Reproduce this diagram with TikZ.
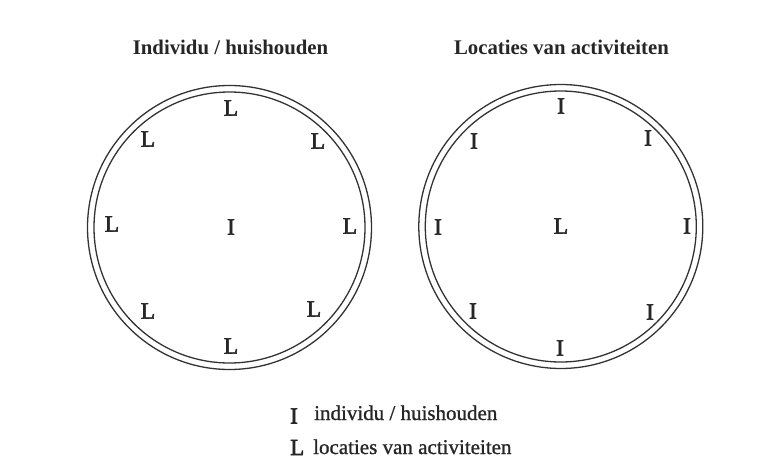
\documentclass[tikz,border=0pt]{standalone}
\usepackage{fontspec}
\setmainfont{Liberation Serif}
\newfontfamily\heavyserif{Liberation Serif}[FakeBold=2.5]
\newfontfamily\semiserif{Liberation Serif}[FakeBold=1]
\begin{document}
\begin{tikzpicture}[x=1pt,y=-1pt,
  ring/.style={line width=1.3pt,draw=black!80},
  letter/.style={font=\heavyserif\fontsize{23.5}{26}\selectfont,inner sep=0pt,anchor=center,text=black!85},
  ttl/.style={font=\fontsize{20.8}{23}\selectfont\bfseries,inner sep=0pt,anchor=base,text=black!85},
  legtxt/.style={font=\semiserif\fontsize{21}{24}\selectfont,inner sep=0pt,anchor=base west,text=black!85},
  legsym/.style={font=\heavyserif\fontsize{23}{25}\selectfont,inner sep=0pt,anchor=base west,text=black!85}]
\useasboundingbox (0,0) rectangle (774,463);
% titles
\node[ttl] (t1) at (230.5,54.5) {Individu / huishouden};
\node[ttl] (t2) at (561.5,54) {Locaties van activiteiten};
% left circle
\coordinate (c1) at (229.5,227.5);
\draw[ring] (c1) circle[radius=142];
\draw[ring] (c1) circle[radius=135.5];
% right circle
\coordinate (c2) at (560.8,226.5);
\draw[ring] (c2) circle[radius=142];
\draw[ring] (c2) circle[radius=135.5];
% left letters
\node[letter] (a1) at (231,108) {L};
\node[letter] (a2) at (148,139) {L};
\node[letter] (a3) at (318,141) {L};
\node[letter] (a4) at (112,224) {L};
\node[letter] (a5) at (231,227) {I};
\node[letter] (a6) at (350,226) {L};
\node[letter] (a7) at (148,311) {L};
\node[letter] (a8) at (314,309) {L};
\node[letter] (a9) at (231,346) {L};
% right letters
\node[letter] (b1) at (561,106) {I};
\node[letter] (b2) at (474,141) {I};
\node[letter] (b3) at (648,138) {I};
\node[letter] (b4) at (438,227) {I};
\node[letter] (b5) at (561,226) {L};
\node[letter] (b6) at (687,226) {I};
\node[letter] (b7) at (473,311) {I};
\node[letter] (b8) at (650,312) {I};
\node[letter] (b9) at (560,348) {I};
% legend
\node[legsym] (s1) at (290,423.5) {I};
\node[legtxt] (l1) at (314,420) {individu / huishouden};
\node[legsym] (s2) at (290,455) {L};
\node[legtxt] (l2) at (313,454) {locaties van activiteiten};
\end{tikzpicture}
\end{document}
